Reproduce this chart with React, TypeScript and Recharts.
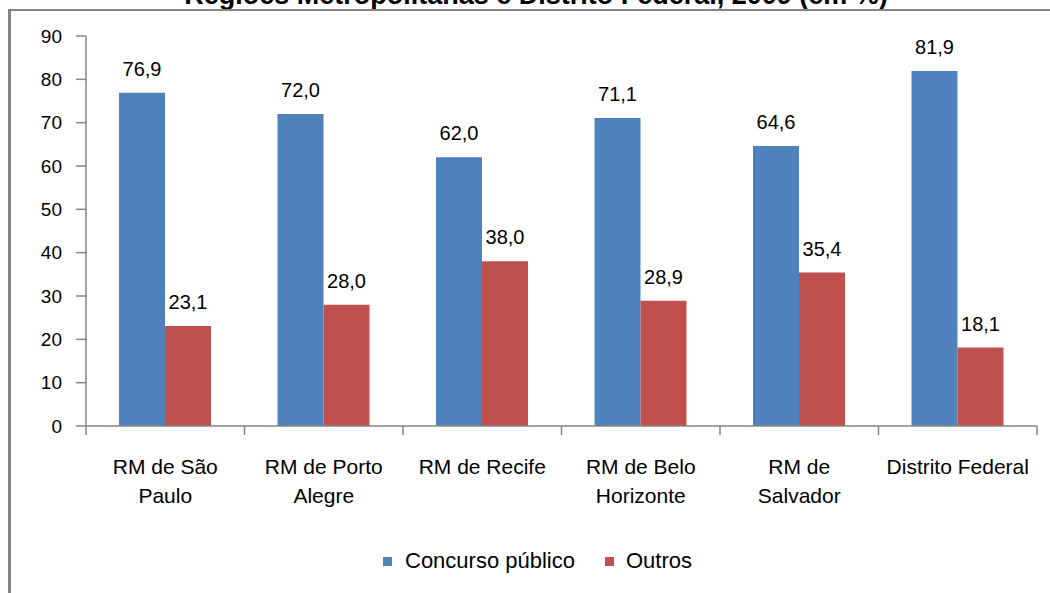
import React from "react"
import { BarChart, Bar, XAxis, YAxis, LabelList } from "recharts"

const categories = [
  "RM de São\nPaulo",
  "RM de Porto\nAlegre",
  "RM de Recife",
  "RM de Belo\nHorizonte",
  "RM de\nSalvador",
  "Distrito Federal",
]
const concursoPublico = [76.9, 72.0, 62.0, 71.1, 64.6, 81.9]
const outros = [23.1, 28.0, 38.0, 28.9, 35.4, 18.1]
const yTicks = [0, 10, 20, 30, 40, 50, 60, 70, 80, 90]

const data = categories.map((c, i) => ({
  name: c,
  concurso: concursoPublico[i],
  outros: outros[i],
}))

const FONT = '"Liberation Sans", Arial, sans-serif'
const AXIS = "#868686"
const BLUE = "#4F81BD"
const RED = "#C0504D"
const BAND = (1037 - 86) / categories.length

const fmt = (v: any) => Number(v).toFixed(1).replace(".", ",")

const CategoryTick = ({ x, y, payload, index }: any) => {
  const lines = String(payload.value).split("\n")
  const left = x - BAND / 2
  const right = x + BAND / 2
  return (
    <g>
      <line x1={left} y1={y} x2={left} y2={y + 9} stroke={AXIS} strokeWidth={1.5} />
      {index === categories.length - 1 && (
        <line x1={right} y1={y} x2={right} y2={y + 9} stroke={AXIS} strokeWidth={1.5} />
      )}
      {lines.map((l, i) => (
        <text key={i} x={x} y={y + 48 + i * 29} textAnchor="middle" fill="#000" fontSize={21} fontFamily={FONT}>
          {l}
        </text>
      ))}
    </g>
  )
}

export default function App() {
  return (
    <div style={{ position: "absolute", left: 0, top: 0, width: 1050, height: 593, background: "#fff", overflow: "hidden" }}>
      {/* title is cropped at the top edge, as in the source image */}
      <svg width={1050} height={20} style={{ position: "absolute", left: 0, top: 0 }}>
        <text x={536} y={4} textAnchor="middle" fontSize={27} fontWeight="bold" fontFamily={FONT} fill="#000">
          Regiões Metropolitanas e Distrito Federal, 2009 (em %)
        </text>
      </svg>
      <div style={{ position: "absolute", left: 8, top: 9, width: 1042, height: 2, background: AXIS }} />
      <div style={{ position: "absolute", left: 8, top: 9, width: 3, height: 584, background: AXIS }} />

      <div style={{ position: "absolute", left: 0, top: 0 }}>
        <BarChart
          width={1050}
          height={593}
          data={data}
          margin={{ top: 36, right: 13, left: 26, bottom: 107 }}
          barCategoryGap={33}
          barGap={0}
        >
          <XAxis
            dataKey="name"
            height={60}
            axisLine={{ stroke: AXIS, strokeWidth: 1.5 }}
            tickLine={false}
            tickSize={0}
            tickMargin={0}
            interval={0}
            tick={(p: any) => <CategoryTick {...p} />}
          />
          <YAxis
            width={60}
            domain={[0, 90]}
            ticks={yTicks}
            interval={0}
            axisLine={{ stroke: AXIS, strokeWidth: 1.5 }}
            tickLine={{ stroke: AXIS, strokeWidth: 1.5 }}
            tickSize={10}
            tickMargin={14}
            tick={{ fill: "#000", fontSize: 19, fontFamily: FONT }}
          />
          <Bar dataKey="concurso" fill={BLUE} isAnimationActive={false}>
            <LabelList dataKey="concurso" position="top" offset={17} formatter={fmt} fill="#000" fontSize={20} fontFamily={FONT} />
          </Bar>
          <Bar dataKey="outros" fill={RED} isAnimationActive={false}>
            <LabelList dataKey="outros" position="top" offset={17} formatter={fmt} fill="#000" fontSize={20} fontFamily={FONT} />
          </Bar>
        </BarChart>
      </div>

      <div style={{ position: "absolute", left: 383, top: 548, display: "flex", alignItems: "center", fontFamily: FONT, fontSize: 22, color: "#000" }}>
        <span style={{ width: 9, height: 9, background: BLUE, display: "inline-block", marginRight: 13 }} />
        <span>Concurso público</span>
        <span style={{ width: 9, height: 9, background: RED, display: "inline-block", marginLeft: 30, marginRight: 12 }} />
        <span>Outros</span>
      </div>
    </div>
  )
}
